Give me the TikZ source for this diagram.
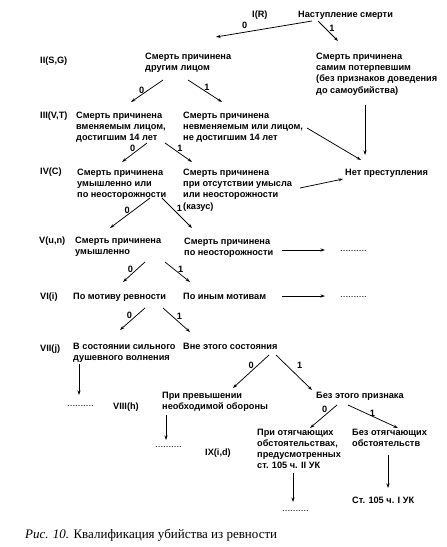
\documentclass[tikz,border=0pt]{standalone}
\usepackage{fontspec}
\setmainfont{Liberation Serif}
\setsansfont{Liberation Sans}
\usetikzlibrary{arrows.meta}
\begin{document}
\begin{tikzpicture}[x=1pt,y=-1pt,
  txt/.style={font=\sffamily\bfseries\fontsize{9.2}{11.3}\selectfont,align=left,inner sep=0pt,anchor=north west},
  num/.style={font=\sffamily\bfseries\fontsize{9.2}{11}\selectfont,inner sep=0pt},
  dots/.style={font=\sffamily\fontsize{9.6}{11}\selectfont,inner sep=0pt,anchor=base west},
  arr/.style={-{Stealth[length=4.5pt,width=3pt]},line width=0.75pt},
  nl/.style={num,pos=0.35,left=4pt},
  nr/.style={num,pos=0.35,right=4pt}]
\useasboundingbox[fill=white] (0,0) rectangle (447,547);
% level I
\node[txt] (R0) at (252,10.5) {I(R)};
\node[txt] (n1) at (298,10.5) {Наступление смерти};
% level II
\node[txt] (L2) at (40,56.5) {II(S,G)};
\node[txt] (n2a) at (145,52.5) {Смерть причинена\\другим лицом};
\node[txt] (n2b) at (316,52.5) {Смерть причинена\\самим потерпевшим\\(без признаков доведения\\до самоубийства)};
% level III
\node[txt] (L3) at (40,111.5) {III(V,T)};
\node[txt] (n3a) at (76,111.5) {Смерть причинена\\вменяемым лицом,\\достигшим 14 лет};
\node[txt] (n3b) at (183,111.5) {Смерть причинена\\невменяемым или лицом,\\не достигшим 14 лет};
% level IV
\node[txt] (L4) at (40,167.5) {IV(C)};
\node[txt] (n4a) at (77,168.5) {Смерть причинена\\умышленно или\\по неосторожности};
\node[txt] (n4b) at (183,168.5) {Смерть причинена\\при отсутствии умысла\\или неосторожности\\(казус)};
\node[txt] (nt) at (345,168.5) {Нет преступления};
% level V
\node[txt] (L5) at (39,236.5) {V(u,n)};
\node[txt] (n5a) at (75,236.5) {Смерть причинена\\умышленно};
\node[txt] (n5b) at (184,237.5) {Смерть причинена\\по неосторожности};
\node[dots] (d5) at (340,251) {..........};
% level VI
\node[txt] (L6) at (40,292.5) {VI(i)};
\node[txt] (n6a) at (73,292.5) {По мотиву ревности};
\node[txt] (n6b) at (183,292.5) {По иным мотивам};
\node[dots] (d6) at (340,297) {..........};
% level VII
\node[txt] (L7) at (40,344.5) {VII(j)};
\node[txt] (n7a) at (73,342.5) {В состоянии сильного\\душевного волнения};
\node[txt] (n7b) at (183,342.5) {Вне этого состояния};
\node[dots] (d7) at (67,406) {..........};
% level VIII
\node[txt] (L8) at (113,402.5) {VIII(h)};
\node[txt] (n8a) at (162,391.5) {При превышении\\необходимой обороны};
\node[txt] (n8b) at (316,391.5) {Без этого признака};
\node[dots] (d8) at (155,447) {..........};
% level IX
\node[txt] (L9) at (205,448.5) {IX(i,d)};
\node[txt] (n9a) at (257,428.5) {При отягчающих\\обстоятельствах,\\предусмотренных\\ст. 105 ч. II УК};
\node[txt] (n9b) at (352,428.5) {Без отягчающих\\обстоятельств};
\node[dots] (d9) at (282,511) {..........};
\node[txt] (n10) at (352,496.5) {Ст. 105 ч. I УК};
% caption
\node[inner sep=0pt,anchor=west,font=\fontsize{13}{15}\selectfont] (cap) at (25,535) {\textit{Рис. 10.} Квалификация убийства из ревности};
% connectors
\draw[arr] ([shift={(14,10.5)}]n1.north west) -- node[num,pos=0.7,above=3pt] (b1) {0} ([shift={(71,-15.5)}]n2a.north west);
\draw[arr] ([shift={(20,10.5)}]n1.north west) -- node[nr] (b2) {1} ([shift={(22,-11.5)}]n2b.north west);
\draw[arr] ([shift={(18,27.5)}]n2a.north west) -- node[nl,pos=0.45] (b3) {0} ([shift={(55,-9.5)}]n3a.north west);
\draw[arr] ([shift={(43,27.5)}]n2a.north west) -- node[nr] (b4) {1} ([shift={(39,-9.5)}]n3b.north west);
\draw[arr] ([shift={(49,52.5)}]n2b.north west) -- ([shift={(20,-13.5)}]nt.north west);
\draw[arr] ([shift={(124,16.5)}]n3b.north west) -- ([shift={(16,-8.5)}]nt.north west);
\draw[arr] ([shift={(117,19.5)}]n4b.north west) -- ([shift={(-2,10.5)}]nt.north west);
\draw[arr] ([shift={(71,31.5)}]n3a.north west) -- node[nl,pos=0.3] (b5) {0} ([shift={(45,-6.5)}]n4a.north west);
\draw[arr] ([shift={(89,31.5)}]n3a.north west) -- node[nr,pos=0.3] (b6) {1} ([shift={(9,-6.5)}]n4b.north west);
\draw[arr] ([shift={(73,29.5)}]n4a.north west) -- node[nl,pos=0.4] (b7) {0} ([shift={(35,-8.5)}]n5a.north west);
\draw[arr] ([shift={(85,29.5)}]n4a.north west) -- node[nr] (b8) {1} ([shift={(8,-9.5)}]n5b.north west);
\draw[arr] ([shift={(98,12.5)}]n5b.north west) -- ([shift={(-15,-1)}]d5.base west);
\draw[arr] ([shift={(70,25.5)}]n5a.north west) -- node[nl] (b9) {0} ([shift={(50,-10.5)}]n6a.north west);
\draw[arr] ([shift={(90,25.5)}]n5a.north west) -- node[nr] (b10) {1} ([shift={(7,-10.5)}]n6b.north west);
\draw[arr] ([shift={(99,3.5)}]n6b.north west) -- ([shift={(-15,-1)}]d6.base west);
\draw[arr] ([shift={(72,15.5)}]n6a.north west) -- node[nl] (b11) {0} ([shift={(47,-12.5)}]n7a.north west);
\draw[arr] ([shift={(90,15.5)}]n6a.north west) -- node[nr] (b12) {1} ([shift={(7,-10.5)}]n7b.north west);
\draw[arr] ([shift={(6,21.5)}]n7a.north west) -- ([shift={(12,-11)}]d7.base west);
\draw[arr] ([shift={(86,12.5)}]n7b.north west) -- node[nl,pos=0.3] (b13) {0} ([shift={(71,-3.5)}]n8a.north west);
\draw[arr] ([shift={(93,12.5)}]n7b.north west) -- node[nr,pos=0.3,right=6pt] (b14) {1} ([shift={(-4,-1.5)}]n8b.north west);
\draw[arr] ([shift={(4,23.5)}]n8a.north west) -- ([shift={(11,-7)}]d8.base west);
\draw[arr] ([shift={(21,13.5)}]n8b.north west) -- node[nl,pos=0.2] (b15) {0} ([shift={(53,-0.5)}]n9a.north west);
\draw[arr] ([shift={(32,13.5)}]n8b.north west) -- node[nr] (b16) {1} ([shift={(46,-0.5)}]n9b.north west);
\draw[arr] ([shift={(36,44.5)}]n9a.north west) -- ([shift={(11,-9)}]d9.base west);
\draw[arr] ([shift={(36,26.5)}]n9b.north west) -- ([shift={(36,-8.5)}]n10.north west);
\end{tikzpicture}
\end{document}
